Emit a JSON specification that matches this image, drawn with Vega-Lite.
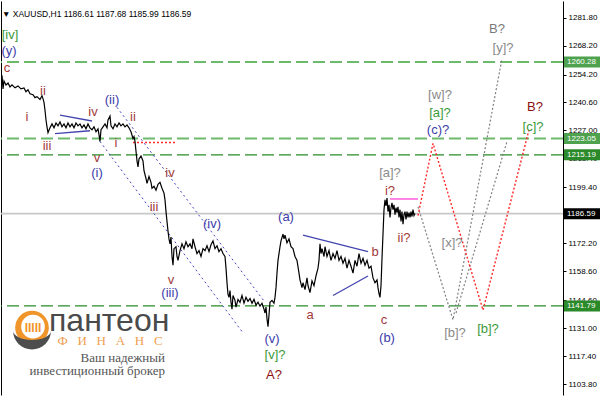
{
"$schema": "https://vega.github.io/schema/vega-lite/v6.json",
"width": 562, "height": 394,
"autosize": "none",
"padding": {"left": 1, "top": 1, "right": 37, "bottom": 13},
"background": "#ffffff",
"config": {"view": {"stroke": null}, "axis": {"labelFont": "Liberation Sans", "labelFontSize": 8, "labelColor": "#000000", "tickColor": "#000000", "domainColor": "#000000", "grid": false, "title": null}},
"datasets": {
"price": [
{"x":2,"p":1253.86},{"x":3,"p":1247.23},{"x":4,"p":1251.02},{"x":6,"p":1249.13},{"x":8,"p":1250.07},{"x":10,"p":1248.18},{"x":12,"p":1249.13},{"x":15,"p":1247.71},{"x":18,"p":1248.65},{"x":21,"p":1247.23},{"x":24,"p":1247.71},{"x":26,"p":1245.81},{"x":28,"p":1246.76},{"x":30,"p":1244.87},{"x":33,"p":1244.39},{"x":35,"p":1242.97},{"x":37,"p":1243.45},{"x":40,"p":1242.03},{"x":42,"p":1243.92},{"x":43,"p":1242.50},{"x":44,"p":1240.61},{"x":45,"p":1236.82},{"x":46,"p":1232.08},{"x":47,"p":1228.77},{"x":48,"p":1225.93},{"x":50,"p":1228.29},{"x":52,"p":1230.19},{"x":54,"p":1228.29},{"x":56,"p":1230.66},{"x":58,"p":1229.24},{"x":60,"p":1231.14},{"x":62,"p":1228.77},{"x":64,"p":1230.19},{"x":66,"p":1228.29},{"x":68,"p":1230.66},{"x":70,"p":1228.77},{"x":72,"p":1230.19},{"x":74,"p":1228.29},{"x":76,"p":1230.66},{"x":78,"p":1229.24},{"x":80,"p":1230.19},{"x":82,"p":1228.29},{"x":84,"p":1229.72},{"x":86,"p":1227.82},{"x":88,"p":1230.19},{"x":90,"p":1228.29},{"x":92,"p":1227.35},{"x":94,"p":1228.77},{"x":96,"p":1226.40},{"x":98,"p":1227.82},{"x":99,"p":1224.98},{"x":100,"p":1221.67},{"x":101,"p":1227.35},{"x":103,"p":1228.77},{"x":105,"p":1230.19},{"x":107,"p":1228.29},{"x":108,"p":1232.08},{"x":110,"p":1233.98},{"x":111,"p":1229.24},{"x":113,"p":1227.82},{"x":115,"p":1230.19},{"x":117,"p":1228.77},{"x":119,"p":1230.66},{"x":121,"p":1229.24},{"x":123,"p":1230.19},{"x":125,"p":1228.77},{"x":127,"p":1229.72},{"x":129,"p":1228.29},{"x":131,"p":1226.40},{"x":133,"p":1223.09},{"x":134,"p":1224.03},{"x":135,"p":1221.67},{"x":136,"p":1216.93},{"x":137,"p":1212.20},{"x":138,"p":1209.35},{"x":139,"p":1213.14},{"x":141,"p":1214.56},{"x":143,"p":1212.20},{"x":144,"p":1207.46},{"x":146,"p":1203.67},{"x":147,"p":1201.31},{"x":149,"p":1204.62},{"x":151,"p":1201.78},{"x":152,"p":1198.94},{"x":154,"p":1199.89},{"x":156,"p":1197.99},{"x":158,"p":1200.83},{"x":160,"p":1201.78},{"x":162,"p":1198.94},{"x":164,"p":1196.57},{"x":165,"p":1193.26},{"x":166,"p":1187.57},{"x":167,"p":1182.84},{"x":168,"p":1178.10},{"x":169,"p":1174.32},{"x":170,"p":1171.95},{"x":171,"p":1175.26},{"x":172,"p":1165.79},{"x":173,"p":1161.53},{"x":174,"p":1169.58},{"x":176,"p":1170.53},{"x":177,"p":1165.79},{"x":178,"p":1163.90},{"x":180,"p":1168.63},{"x":182,"p":1171.95},{"x":184,"p":1169.58},{"x":186,"p":1172.90},{"x":188,"p":1170.53},{"x":190,"p":1171.95},{"x":192,"p":1169.58},{"x":193,"p":1174.32},{"x":195,"p":1170.53},{"x":197,"p":1167.21},{"x":199,"p":1168.63},{"x":201,"p":1165.79},{"x":203,"p":1169.58},{"x":205,"p":1168.63},{"x":207,"p":1171.00},{"x":209,"p":1168.16},{"x":211,"p":1171.47},{"x":213,"p":1173.37},{"x":215,"p":1169.58},{"x":217,"p":1171.00},{"x":219,"p":1168.16},{"x":221,"p":1169.58},{"x":223,"p":1167.21},{"x":225,"p":1165.79},{"x":226,"p":1160.11},{"x":227,"p":1153.01},{"x":228,"p":1147.33},{"x":229,"p":1145.91},{"x":230,"p":1149.22},{"x":231,"p":1143.54},{"x":232,"p":1140.22},{"x":233,"p":1146.85},{"x":235,"p":1144.49},{"x":236,"p":1141.17},{"x":238,"p":1144.96},{"x":240,"p":1143.54},{"x":242,"p":1146.85},{"x":244,"p":1143.07},{"x":246,"p":1145.91},{"x":248,"p":1144.01},{"x":250,"p":1145.43},{"x":252,"p":1143.07},{"x":254,"p":1144.96},{"x":256,"p":1142.12},{"x":258,"p":1143.54},{"x":260,"p":1141.65},{"x":262,"p":1143.07},{"x":264,"p":1140.22},{"x":265,"p":1138.33},{"x":266,"p":1141.17},{"x":267,"p":1135.49},{"x":268,"p":1131.70},{"x":269,"p":1137.38},{"x":270,"p":1143.54},{"x":272,"p":1144.49},{"x":274,"p":1143.07},{"x":275,"p":1145.91},{"x":276,"p":1150.64},{"x":277,"p":1157.74},{"x":278,"p":1163.90},{"x":279,"p":1167.21},{"x":280,"p":1170.53},{"x":281,"p":1173.37},{"x":283,"p":1176.68},{"x":284,"p":1174.32},{"x":285,"p":1176.21},{"x":287,"p":1172.42},{"x":289,"p":1174.32},{"x":291,"p":1170.53},{"x":293,"p":1169.58},{"x":295,"p":1165.79},{"x":297,"p":1163.90},{"x":299,"p":1157.74},{"x":300,"p":1154.43},{"x":302,"p":1150.64},{"x":303,"p":1153.01},{"x":305,"p":1149.69},{"x":307,"p":1155.38},{"x":308,"p":1151.59},{"x":310,"p":1148.27},{"x":312,"p":1153.96},{"x":314,"p":1151.59},{"x":316,"p":1156.32},{"x":318,"p":1160.11},{"x":319,"p":1163.90},{"x":320,"p":1171.95},{"x":321,"p":1167.21},{"x":322,"p":1169.58},{"x":324,"p":1165.79},{"x":325,"p":1170.53},{"x":327,"p":1165.79},{"x":329,"p":1168.63},{"x":331,"p":1163.90},{"x":333,"p":1167.21},{"x":335,"p":1164.85},{"x":337,"p":1168.63},{"x":339,"p":1163.90},{"x":341,"p":1165.79},{"x":343,"p":1162.48},{"x":345,"p":1164.85},{"x":347,"p":1160.11},{"x":349,"p":1163.90},{"x":351,"p":1161.06},{"x":353,"p":1157.74},{"x":355,"p":1163.90},{"x":357,"p":1161.06},{"x":359,"p":1167.21},{"x":361,"p":1162.48},{"x":363,"p":1164.85},{"x":365,"p":1161.53},{"x":367,"p":1163.90},{"x":369,"p":1160.11},{"x":371,"p":1161.06},{"x":373,"p":1155.38},{"x":375,"p":1153.01},{"x":377,"p":1154.43},{"x":378,"p":1150.64},{"x":379,"p":1147.80},{"x":380,"p":1145.91},{"x":381,"p":1151.59},{"x":382,"p":1164.85},{"x":383,"p":1176.68},{"x":384,"p":1188.52},{"x":385,"p":1193.26},{"x":386,"p":1190.41},{"x":387,"p":1194.20},{"x":388,"p":1187.57},{"x":389,"p":1190.89},{"x":390,"p":1184.73},{"x":391,"p":1189.47},{"x":392,"p":1191.83},{"x":393,"p":1188.52},{"x":394,"p":1190.89},{"x":395,"p":1186.15},{"x":396,"p":1189.47},{"x":397,"p":1187.10},{"x":398,"p":1189.94},{"x":399,"p":1184.73},{"x":400,"p":1188.52},{"x":401,"p":1182.84},{"x":402,"p":1187.57},{"x":403,"p":1181.42},{"x":404,"p":1186.15},{"x":405,"p":1187.57},{"x":406,"p":1183.79},{"x":407,"p":1187.57},{"x":408,"p":1184.73},{"x":409,"p":1187.10},{"x":410,"p":1184.73},{"x":411,"p":1187.57},{"x":412,"p":1185.21},{"x":413,"p":1188.52},{"x":414,"p":1185.68},{"x":415,"p":1186.63}
],
"hlines": [
{"p":1260.28,"k":"light"},{"p":1223.05,"k":"light"},{"p":1215.19,"k":"dark"},{"p":1141.79,"k":"dark"}
],
"blueSolid": [
{"g":"t1u","x":60,"p":1234.45},{"g":"t1u","x":92,"p":1231.61},
{"g":"t1l","x":55,"p":1225.45},{"g":"t1l","x":90,"p":1226.87},
{"g":"t2u","x":303,"p":1176.21},{"g":"t2u","x":368,"p":1168.16},
{"g":"t2l","x":333,"p":1146.85},{"g":"t2l","x":368,"p":1156.32}
],
"blueDot": [
{"g":"u","x":117,"p":1238.24},{"g":"u","x":265,"p":1143.54},
{"g":"l","x":100,"p":1221.67},{"g":"l","x":242,"p":1129.34}
],
"redDot": [
{"g":"path","x":418,"p":1185.68},{"g":"path","x":433,"p":1220.72},{"g":"path","x":483,"p":1139.75},{"g":"path","x":529,"p":1227.35},
{"g":"i","x":133,"p":1221.19},{"g":"i","x":175,"p":1221.19}
],
"grayDot": [
{"g":"g1","x":418,"p":1189.94},{"g":"g1","x":453,"p":1135.02},{"g":"g1","x":502,"p":1261.91},
{"g":"g2","x":456,"p":1138.33},{"g":"g2","x":507,"p":1221.67}
],
"magenta": [{"x":390,"p":1193.73},{"x":418,"p":1193.73}],
"labels": [
{"x":10,"p":1273.28,"t":"[iv]","g":"green"},
{"x":9,"p":1265.70,"t":"(y)","g":"blue"},
{"x":7,"p":1257.18,"t":"c","g":"brown"},
{"x":27,"p":1233.50,"t":"i","g":"brown"},
{"x":43,"p":1246.29,"t":"ii","g":"brown"},
{"x":93,"p":1235.87,"t":"iv","g":"brown"},
{"x":112,"p":1242.03,"t":"(ii)","g":"blue"},
{"x":133,"p":1233.50,"t":"ii","g":"brown"},
{"x":47,"p":1219.30,"t":"iii","g":"brown"},
{"x":97,"p":1213.61,"t":"v","g":"brown"},
{"x":97,"p":1206.51,"t":"(i)","g":"blue"},
{"x":116,"p":1220.72,"t":"i","g":"brown"},
{"x":170,"p":1206.51,"t":"iv","g":"brown"},
{"x":154,"p":1189.94,"t":"iii","g":"brown"},
{"x":171,"p":1154.43,"t":"v","g":"brown"},
{"x":170,"p":1148.27,"t":"(iii)","g":"blue"},
{"x":212,"p":1181.42,"t":"(iv)","g":"blue"},
{"x":286,"p":1184.73,"t":"(a)","g":"blue"},
{"x":310,"p":1137.38,"t":"a","g":"brown"},
{"x":375,"p":1168.16,"t":"b","g":"brown"},
{"x":384,"p":1135.02,"t":"c","g":"brown"},
{"x":387,"p":1126.02,"t":"(b)","g":"blue"},
{"x":272,"p":1125.55,"t":"(v)","g":"blue"},
{"x":275,"p":1117.97,"t":"[v]?","g":"green"},
{"x":274,"p":1108.03,"t":"A?","g":"dkred"},
{"x":390,"p":1197.52,"t":"i?","g":"brown"},
{"x":404,"p":1174.79,"t":"ii?","g":"brown"},
{"x":390,"p":1206.51,"t":"[a]?","g":"gray"},
{"x":452,"p":1172.42,"t":"[x]?","g":"gray"},
{"x":455,"p":1128.39,"t":"[b]?","g":"gray"},
{"x":488,"p":1130.76,"t":"[b]?","g":"green"},
{"x":438,"p":1227.35,"t":"(c)?","g":"blue"},
{"x":440,"p":1235.40,"t":"[a]?","g":"green"},
{"x":440,"p":1244.39,"t":"[w]?","g":"gray"},
{"x":503,"p":1267.12,"t":"[y]?","g":"gray"},
{"x":497,"p":1276.12,"t":"B?","g":"grayBig"},
{"x":535,"p":1238.24,"t":"B?","g":"dkred"},
{"x":533,"p":1228.77,"t":"[c]?","g":"green"}
],
"boxes": [
{"p":1260.28,"t":"1260.28","k":"light"},{"p":1223.05,"t":"1223.05","k":"light"},{"p":1215.19,"t":"1215.19","k":"dark"},{"p":1141.79,"t":"1141.79","k":"dark"},{"p":1186.59,"t":"1186.59","k":"cur"}
],
"header": [{"x":2,"p":1283.69,"t":"▼ XAUUSD,H1  1186.61 1187.68 1185.99 1186.59"}],
"logo": [{"x":32,"p":1131.23}],
"logoInner": [{"x":33,"p":1131.70}],
"logoCols": [{"x":33,"p":1131.23,"t":"IIIII"}],
"logoBig": [{"x":49,"p":1134.54,"t":"пантеон"}],
"logoFin": [{"x":110,"p":1124.60,"t":"Ф\u00a0\u00a0\u00a0И\u00a0\u00a0\u00a0Н\u00a0\u00a0\u00a0А\u00a0\u00a0\u00a0Н\u00a0\u00a0\u00a0С"}],
"logoTag": [{"x":165,"p":1116.55,"t":"Ваш надежный"},{"x":165,"p":1109.92,"t":"инвестиционный брокер"}]
},
"layer": [
{"data": {"name": "hlines"}, "mark": {"type": "rule", "strokeDash": [12, 5]},
 "encoding": {"y": {"field": "p", "type": "quantitative", "scale": {"domain": [1100.92, 1287.48], "nice": false, "zero": false},
   "axis": {"orient": "left", "labels": false, "ticks": false, "domain": true}},
  "color": {"field": "k", "type": "nominal", "scale": {"domain": ["light", "dark"], "range": ["#6cba6c", "#2a8c2a"]}, "legend": null},
  "strokeWidth": {"field": "k", "type": "nominal", "scale": {"domain": ["light", "dark"], "range": [2, 1.2]}, "legend": null}}},
{"data": {"values": [{"p": 1186.59}]}, "mark": {"type": "rule", "color": "#c8c8c8", "strokeWidth": 1.8},
 "encoding": {"y": {"field": "p", "type": "quantitative", "axis": null}}},
{"data": {"name": "blueDot"}, "mark": {"type": "line", "color": "#4646c0", "strokeWidth": 1, "strokeDash": [2, 3]},
 "encoding": {"x": {"field": "x", "type": "quantitative", "axis": null, "scale": {"domain": [1, 563], "nice": false, "zero": false}}, "y": {"field": "p", "type": "quantitative", "axis": null}, "detail": {"field": "g"}}},
{"data": {"name": "blueSolid"}, "mark": {"type": "line", "color": "#4444b0", "strokeWidth": 1.3},
 "encoding": {"x": {"field": "x", "type": "quantitative", "axis": null}, "y": {"field": "p", "type": "quantitative", "axis": null}, "detail": {"field": "g"}}},
{"data": {"name": "grayDot"}, "mark": {"type": "line", "color": "#808080", "strokeWidth": 1.2, "strokeDash": [2, 2]},
 "encoding": {"x": {"field": "x", "type": "quantitative", "axis": null}, "y": {"field": "p", "type": "quantitative", "axis": null}, "detail": {"field": "g"}, "order": {"field": "x"}}},
{"data": {"name": "redDot"}, "mark": {"type": "line", "color": "#ff2a2a", "strokeWidth": 1.4, "strokeDash": [2, 2]},
 "encoding": {"x": {"field": "x", "type": "quantitative", "axis": null}, "y": {"field": "p", "type": "quantitative", "axis": null}, "detail": {"field": "g"}, "order": {"field": "x"}}},
{"data": {"name": "magenta"}, "mark": {"type": "line", "color": "#ff66dd", "strokeWidth": 1.6},
 "encoding": {"x": {"field": "x", "type": "quantitative", "axis": null}, "y": {"field": "p", "type": "quantitative", "axis": null}}},
{"data": {"name": "price"}, "mark": {"type": "line", "color": "#000000", "strokeWidth": 1.2},
 "encoding": {"x": {"field": "x", "type": "quantitative", "scale": {"domain": [1, 563], "nice": false, "zero": false},
   "axis": {"orient": "bottom", "values": [3, 58, 115, 171, 227, 283, 339, 395], "labelAlign": "left", "labelBaseline": "top", "labelFontSize": 8.5, "tickSize": 3, "labelPadding": 0, "labelFlush": false, "labelOverlap": false,
    "labelExpr": "datum.value==3?'21 Oct 2014':datum.value==58?'24 Oct 05:00':datum.value==115?'28 Oct 21:00':datum.value==171?'31 Oct 13:00':datum.value==227?'5 Nov 07:00':datum.value==283?'7 Nov 23:00':datum.value==339?'12 Nov 16:00':'17 Nov 09:00'"}},
  "y": {"field": "p", "type": "quantitative", "axis": {"orient": "right", "values": [1281.8, 1268.2, 1254.2, 1240.6, 1227.0, 1213.4, 1199.4, 1185.8, 1172.2, 1158.6, 1144.6, 1131.0, 1117.4, 1103.8], "format": ".2f", "tickSize": 3, "labelPadding": 2, "labelBaseline": "middle", "labelFlush": false, "labelOverlap": false}}}},
{"data": {"name": "labels"}, "mark": {"type": "text", "font": "Liberation Sans", "align": "center", "baseline": "middle"},
 "encoding": {"x": {"field": "x", "type": "quantitative", "axis": null}, "y": {"field": "p", "type": "quantitative", "axis": null}, "text": {"field": "t"},
  "color": {"field": "g", "type": "nominal", "scale": {"domain": ["brown", "blue", "green", "gray", "dkred", "grayBig"], "range": ["#a23a3a", "#3c3caa", "#3a9a3a", "#8a8a8a", "#8b1010", "#7a7a7a"]}, "legend": null},
  "size": {"field": "g", "type": "nominal", "scale": {"domain": ["brown", "blue", "green", "gray", "dkred", "grayBig"], "range": [13, 13, 13, 13, 18, 18]}, "legend": null}}},
{"data": {"name": "logo"}, "mark": {"type": "point", "shape": "circle", "filled": true, "color": "#f0952a", "size": 1134, "opacity": 1},
 "encoding": {"x": {"field": "x", "type": "quantitative", "axis": null}, "y": {"field": "p", "type": "quantitative", "axis": null}}},
{"data": {"name": "logoInner"}, "mark": {"type": "point", "shape": "circle", "filled": true, "color": "#ffffff", "size": 560, "opacity": 1},
 "encoding": {"x": {"field": "x", "type": "quantitative", "axis": null}, "y": {"field": "p", "type": "quantitative", "axis": null}}},
{"data": {"name": "logo"}, "mark": {"type": "point", "shape": "M-1,0.15 A1,1 0 0,0 1,0.15 A1,0.5 0 0,1 -1,0.15 Z", "filled": true, "color": "#4d4d4d", "size": 1444, "opacity": 1},
 "encoding": {"x": {"field": "x", "type": "quantitative", "axis": null}, "y": {"field": "p", "type": "quantitative", "axis": null}}},
{"data": {"name": "logoCols"}, "mark": {"type": "text", "font": "Liberation Sans", "fontWeight": "bold", "fontSize": 12, "color": "#f0952a", "align": "center", "baseline": "middle"},
 "encoding": {"x": {"field": "x", "type": "quantitative", "axis": null}, "y": {"field": "p", "type": "quantitative", "axis": null}, "text": {"field": "t"}}},
{"data": {"name": "logoBig"}, "mark": {"type": "text", "font": "Liberation Sans", "fontSize": 32, "color": "#4a4a4a", "align": "left", "baseline": "middle"},
 "encoding": {"x": {"field": "x", "type": "quantitative", "axis": null}, "y": {"field": "p", "type": "quantitative", "axis": null}, "text": {"field": "t"}}},
{"data": {"name": "logoFin"}, "mark": {"type": "text", "font": "Liberation Serif", "fontSize": 13, "color": "#f0a050", "align": "center", "baseline": "middle"},
 "encoding": {"x": {"field": "x", "type": "quantitative", "axis": null}, "y": {"field": "p", "type": "quantitative", "axis": null}, "text": {"field": "t"}}},
{"data": {"name": "logoTag"}, "mark": {"type": "text", "font": "Liberation Serif", "fontSize": 13, "color": "#555555", "align": "right", "baseline": "middle"},
 "encoding": {"x": {"field": "x", "type": "quantitative", "axis": null}, "y": {"field": "p", "type": "quantitative", "axis": null}, "text": {"field": "t"}}},
{"data": {"name": "boxes"}, "mark": {"type": "bar", "orient": "horizontal", "height": 11},
 "encoding": {"x": {"datum": 564, "type": "quantitative", "axis": null}, "x2": {"datum": 600}, "y": {"field": "p", "type": "quantitative", "axis": null},
  "color": {"field": "k", "type": "nominal", "scale": {"domain": ["light", "dark", "cur"], "range": ["#4ea24e", "#2a8a2a", "#000000"]}, "legend": null}}},
{"data": {"name": "boxes"}, "mark": {"type": "text", "font": "Liberation Sans", "fontSize": 8, "color": "#ffffff", "align": "left", "baseline": "middle"},
 "encoding": {"x": {"datum": 567, "type": "quantitative", "axis": null}, "y": {"field": "p", "type": "quantitative", "axis": null}, "text": {"field": "t"}}},
{"data": {"name": "header"}, "mark": {"type": "text", "font": "Liberation Sans", "fontSize": 8.5, "color": "#000000", "align": "left", "baseline": "middle"},
 "encoding": {"x": {"field": "x", "type": "quantitative", "axis": null}, "y": {"field": "p", "type": "quantitative", "axis": null}, "text": {"field": "t"}}}
],
"resolve": {"axis": {"y": "independent"}, "scale": {"color": "independent", "size": "independent", "strokeWidth": "independent"}}
}
